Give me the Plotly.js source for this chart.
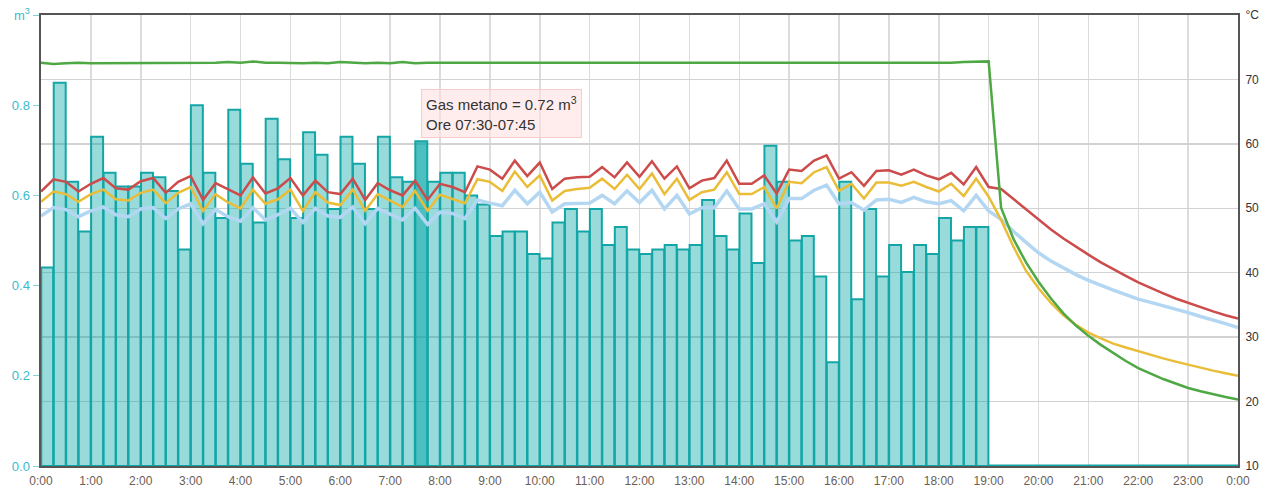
<!DOCTYPE html>
<html><head><meta charset="utf-8">
<script src="https://cdn.plot.ly/plotly-3.0.1.min.js"></script>
<style>html,body{margin:0;padding:0;background:#fff}#chart{width:1271px;height:495px}</style>
</head><body><div id="chart"></div>
<script>
// ---- data ----
const slotMinutes = 15;
const xTickLabels = ["0:00","1:00","2:00","3:00","4:00","5:00","6:00","7:00","8:00","9:00","10:00","11:00",
  "12:00","13:00","14:00","15:00","16:00","17:00","18:00","19:00","20:00","21:00","22:00","23:00","0:00"];
const leftTickValues = [0, 0.2, 0.4, 0.6, 0.8, 1.0];
const leftTickLabels = ["0.0","0.2","0.4","0.6","0.8","m<sup>3</sup>"];
const rightTickValues = [10, 20, 30, 40, 50, 60, 70, 80];
const rightTickLabels = ["10","20","30","40","50","60","70","°C"];

// gas consumption per 15-minute slot (m3)
const gasM3 = [
  0.44,0.85,0.63,0.52, 0.73,0.65,0.62,0.62, 0.65,0.64,0.61,0.48, 0.80,0.65,0.55,0.79,
  0.67,0.54,0.77,0.68, 0.55,0.74,0.69,0.57, 0.73,0.67,0.57,0.73, 0.64,0.63,0.72,0.63,
  0.65,0.65,0.60,0.58, 0.51,0.52,0.52,0.47, 0.46,0.54,0.57,0.52, 0.57,0.49,0.53,0.48,
  0.47,0.48,0.49,0.48, 0.49,0.59,0.51,0.48, 0.56,0.45,0.71,0.63, 0.50,0.51,0.42,0.23,
  0.63,0.37,0.57,0.42, 0.49,0.43,0.49,0.47, 0.55,0.50,0.53,0.53,
  0,0,0,0, 0,0,0,0, 0,0,0,0, 0,0,0,0, 0,0,0,0
];

// temperatures sampled every 15 minutes from 0:00 to 24:00 (°C)
const tempGreen = [
  72.6,72.4,72.5,72.6,72.5,72.5,72.6,72.5,72.5,72.6,
  72.5,72.6,72.6,72.5,72.6,72.7,72.6,72.8,72.6,72.6,
  72.5,72.5,72.6,72.5,72.7,72.6,72.5,72.6,72.5,72.7,
  72.5,72.6,72.6,72.5,72.5,72.6,72.5,72.6,72.5,72.5,
  72.6,72.6,72.5,72.5,72.6,72.5,72.6,72.5,72.6,72.6,
  72.5,72.5,72.6,72.5,72.5,72.6,72.6,72.5,72.6,72.5,
  72.5,72.6,72.6,72.5,72.5,72.6,72.6,72.5,72.6,72.5,
  72.6,72.6,72.5,72.6,72.7,72.7,72.8,50.1,45.2,41.6,
  38.6,36.0,33.7,31.8,30.2,28.8,27.5,26.3,25.2,24.3,
  23.5,22.8,22.1,21.6,21.1,20.7,20.3
];
const tempRed = [
  52.6,54.5,54.1,52.6,53.8,54.7,53.1,52.9,54.2,54.7,
  52.4,54.1,55.0,51.3,53.9,53.0,52.0,54.8,52.3,53.1,
  54.7,52.0,54.3,52.5,52.2,54.6,51.3,53.9,52.8,52.0,
  54.3,51.3,53.8,53.3,52.5,56.5,56.0,54.6,57.4,55.0,
  57.1,53.0,54.6,54.8,54.9,56.4,54.8,57.1,54.9,57.3,
  54.6,56.5,53.1,54.3,54.7,57.4,53.8,53.8,55.1,52.3,
  56.0,55.8,57.4,58.2,54.6,55.6,53.5,55.8,55.9,55.2,
  56.0,55.1,54.5,55.5,53.7,56.4,53.3,53.0,51.4,49.8,
  48.2,46.7,45.3,44.0,42.8,41.6,40.5,39.5,38.5,37.6,
  36.8,36.0,35.3,34.6,34.0,33.4,32.9
];
const tempYellow = [
  51.0,52.6,52.2,51.0,52.2,52.9,51.4,51.2,52.4,52.9,
  50.8,52.4,53.3,49.6,52.2,50.9,50.0,52.9,50.7,51.4,
  52.9,49.6,52.5,50.9,50.5,52.9,49.6,52.2,51.2,50.2,
  52.7,49.6,52.1,51.5,50.8,54.5,54.1,52.7,55.7,53.3,
  55.1,51.2,52.7,53.0,53.2,54.6,53.0,55.2,53.0,55.4,
  52.2,54.6,51.3,52.5,52.9,55.6,52.2,52.2,53.3,50.0,
  54.1,53.9,55.6,56.4,52.7,53.8,51.5,54.0,54.0,53.5,
  54.1,53.3,52.6,53.8,51.9,54.6,51.8,48.2,44.0,40.3,
  37.6,35.3,33.4,31.9,30.7,29.8,29.0,28.4,27.8,27.2,
  26.7,26.2,25.7,25.2,24.8,24.4,24.0
];
const tempBlue = [
  48.8,50.1,49.8,48.7,49.6,50.2,49.0,48.7,49.9,50.1,
  48.4,49.9,50.7,47.6,49.8,48.7,48.0,50.1,48.2,49.0,
  50.0,47.8,50.0,48.8,48.6,50.2,47.6,50.0,49.1,48.2,
  50.0,47.5,49.4,49.2,48.4,51.3,50.8,50.4,52.8,50.7,
  52.5,49.4,50.7,50.7,50.8,52.0,50.7,52.7,50.9,52.8,
  49.9,52.0,49.1,50.1,50.1,52.7,49.9,49.9,50.7,47.9,
  51.5,51.5,52.8,53.6,50.7,50.9,49.7,51.3,51.4,50.9,
  51.7,51.0,50.7,51.2,49.6,52.0,49.6,48.3,46.4,44.7,
  43.1,41.8,40.7,39.7,38.8,38.0,37.3,36.6,35.9,35.4,
  34.9,34.3,33.8,33.2,32.7,32.1,31.5
];
const hoverIndex = 30;

// ---- chart ----
const slotH = slotMinutes / 60;
const barX = gasM3.map((_, i) => (i + 0.5) * slotH);
const lineX = tempRed.map((_, i) => i * slotH);
const barFill = gasM3.map((_, i) => i === hoverIndex ? 'rgba(0,165,165,0.7)' : 'rgba(0,165,165,0.4)');
const fmtTime = h => { const m = Math.round(h * 60); return String(Math.floor(m / 60)).padStart(2, '0') + ':' + String(m % 60).padStart(2, '0'); };

// zero-consumption slots are drawn as a flat outline along the baseline
const zeroX = [], zeroY = [];
gasM3.forEach((v, i) => { if (v === 0) { zeroX.push(i * slotH, (i + 1) * slotH); zeroY.push(v, v); } });

const traces = [
  {type:'bar', x:barX, y:gasM3, width:slotH * 0.96, yaxis:'y', xaxis:'x',
   marker:{color:barFill, line:{color:'#14a6a6', width:2}}, hoverinfo:'skip'},
  {type:'scatter', mode:'lines', x:zeroX, y:zeroY, yaxis:'y', line:{color:'#14a6a6', width:3}, hoverinfo:'skip', cliponaxis:false},
  {type:'scatter', mode:'lines', x:lineX, y:tempBlue, yaxis:'y2', line:{color:'#b3d7f2', width:3.5}, hoverinfo:'skip'},
  {type:'scatter', mode:'lines', x:lineX, y:tempYellow, yaxis:'y2', line:{color:'#eabd38', width:2.5}, hoverinfo:'skip'},
  {type:'scatter', mode:'lines', x:lineX, y:tempRed, yaxis:'y2', line:{color:'#cc4b4b', width:2.5}, hoverinfo:'skip'},
  {type:'scatter', mode:'lines', x:lineX, y:tempGreen, yaxis:'y2', line:{color:'#4ea843', width:2.5}, hoverinfo:'skip'}
];

const layout = {
  width:1271, height:495,
  margin:{l:41, r:33, t:15, b:29, pad:0},
  paper_bgcolor:'#ffffff', plot_bgcolor:'#ffffff',
  showlegend:false,
  font:{family:'"Liberation Sans", Arial, sans-serif', size:12, color:'#555'},
  bargap:0,
  xaxis:{range:[0,24], tickmode:'array', tickvals:xTickLabels.map((_, i) => i), ticktext:xTickLabels,
    showgrid:true, gridcolor:'#dcdcdc', gridwidth:1.5, zeroline:false,
    showline:true, mirror:true, linecolor:'#555', linewidth:2,
    ticks:'outside', ticklen:3, tickcolor:'rgba(0,0,0,0)', tickfont:{color:'#6b6057', size:12}},
  yaxis:{range:[0,1], tickmode:'array', tickvals:leftTickValues, ticktext:leftTickLabels,
    showgrid:false, zeroline:false, showline:true, linecolor:'#555', linewidth:2.5,
    ticks:'outside', ticklen:6, tickwidth:1, tickcolor:'#7fd3dc', tickfont:{color:'#38bccc', size:13}},
  yaxis2:{overlaying:'y', side:'right', range:[10,80], tickmode:'array', tickvals:rightTickValues, ticktext:rightTickLabels,
    showgrid:true, gridcolor:'#d2d2d2', gridwidth:1.5, zeroline:false,
    showline:true, linecolor:'#555', linewidth:2, ticks:'outside', ticklen:3, tickcolor:'rgba(0,0,0,0)',
    tickfont:{color:'#333', size:12}},
  annotations:[{
    xref:'paper', yref:'paper', x:0.3175, y:0.835, xanchor:'left', yanchor:'top', align:'left',
    showarrow:false,
    text:'Gas metano = ' + gasM3[hoverIndex].toFixed(2) + ' m<sup>3</sup><br>Ore ' +
         fmtTime(hoverIndex * slotH) + '-' + fmtTime((hoverIndex + 1) * slotH),
    font:{size:15, color:'#333', family:'"Liberation Sans", Arial, sans-serif'},
    bgcolor:'rgba(255,225,225,0.6)', bordercolor:'#f6cccc', borderwidth:1, borderpad:4
  }]
};

Plotly.newPlot('chart', traces, layout, {displayModeBar:false, staticPlot:true});
</script>
</body></html>
